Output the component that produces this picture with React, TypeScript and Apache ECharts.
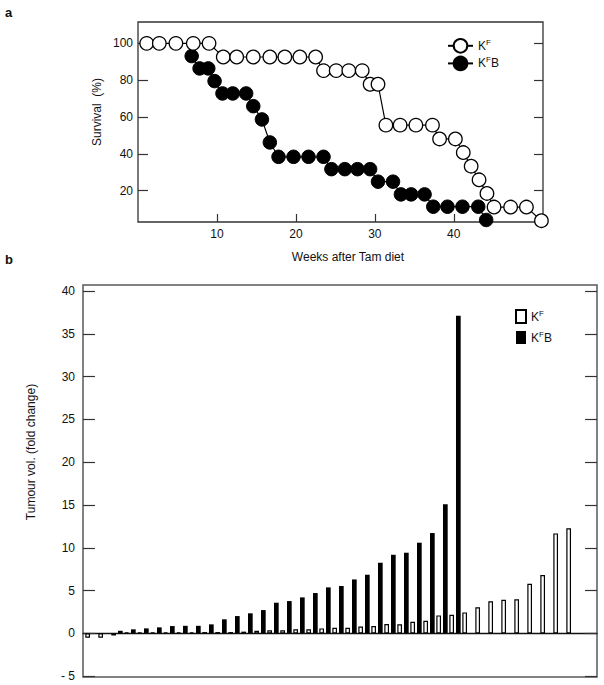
import React, { useEffect, useRef } from 'react';
import * as echarts from 'echarts';

// ---- Panel a: survival (Kaplan-Meier style points) ----
const kfWeeks = [1.1, 2.7, 4.8, 7.0, 9.0, 10.8, 12.5, 14.6, 16.7, 18.6, 20.5, 22.5, 23.5, 25.1, 26.7, 28.4, 29.4, 30.4, 31.4, 33.2, 35.2, 37.3, 38.2, 40.2, 41.2, 42.2, 43.2, 44.2, 45.1, 47.2, 49.2, 51.1];
const kfSurvival = [100, 100, 100, 100, 100, 92.6, 92.6, 92.6, 92.6, 92.6, 92.6, 92.6, 85.2, 85.2, 85.2, 85.2, 77.8, 77.8, 55.6, 55.6, 55.6, 55.6, 48.1, 48.1, 40.7, 33.3, 25.9, 18.5, 11.1, 11.1, 11.1, 3.7];
const kfbWeeks = [6.8, 7.8, 8.9, 9.7, 10.7, 12.0, 13.7, 14.6, 15.7, 16.7, 17.8, 19.7, 21.6, 23.5, 24.5, 26.2, 27.8, 29.4, 30.4, 32.3, 33.3, 34.6, 36.3, 37.4, 39.2, 41.1, 43.1, 44.1];
const kfbSurvival = [93.1, 86.4, 86.4, 79.5, 72.8, 72.8, 72.8, 65.9, 58.7, 46.2, 38.4, 38.4, 38.4, 38.4, 31.7, 31.7, 31.7, 31.7, 24.9, 24.9, 18.0, 18.0, 18.0, 11.3, 11.3, 11.3, 11.3, 4.1];
const weekTicks = [10, 20, 30, 40];
const survivalTicks = [20, 40, 60, 80, 100];

// ---- Panel b: tumour volume fold change ----
const tumourSlots = ['1', '2', '3', '4', '5', '6', '7', '8', '9', '10', '11', '12', '13', '14', '15', '16', '17', '18', '19', '20', '21', '22', '23', '24', '25', '26', '27', '28', '29', '30', '31', '32', '33', '34', '35', '36', '37', '38'];
const kfFold = [-0.5, -0.5, -0.25, 0.1, 0.1, 0.1, 0.12, 0.12, 0.12, 0.15, 0.15, 0.15, 0.2, 0.3, 0.35, 0.35, 0.47, 0.47, 0.58, 0.66, 0.66, 0.8, 0.85, 1.09, 1.05, 1.36, 1.48, 2.1, 2.18, 2.45, 3.04, 3.75, 3.93, 3.97, 5.8, 6.81, 11.68, 12.27];
const kfbFold = [null, null, 0.3, 0.47, 0.58, 0.7, 0.85, 0.88, 0.88, 1.05, 1.64, 2.02, 2.34, 2.72, 3.58, 3.77, 4.2, 4.71, 5.37, 5.53, 6.3, 6.85, 8.25, 9.18, 9.42, 10.59, 11.72, 15.07, 37.1, null, null, null, null, null, null, null, null, null];
const foldTicks = [-5, 0, 5, 10, 15, 20, 25, 30, 35, 40];

const FONT = '"Liberation Sans", Arial, Helvetica, sans-serif';
const INK = '#111';

const legendRich = {
  k: { fontSize: 12, fontFamily: FONT, color: INK, lineHeight: 15 },
  s: { fontSize: 8, fontFamily: FONT, color: INK, verticalAlign: 'top' },
};
const legendFormatter = (name: string) =>
  name.indexOf('KFB') === 0 ? '{k|K}{s|F}{k|B}' : '{k|K}{s|F}';

export default function App() {
  const ref = useRef<HTMLDivElement>(null);

  useEffect(() => {
    if (!ref.current) return;
    const chart = echarts.init(ref.current, undefined, { renderer: 'svg' });

    const tickLine = { color: '#333', width: 1.2 };
    const label = { color: INK, fontSize: 12, fontFamily: FONT };

    const option: any = {
      animation: false,
      backgroundColor: '#fff',
      grid: [
        // 0: frame of panel b
        { left: 83, right: 7, top: 285, bottom: 8, show: true, borderColor: '#5a5a5a', borderWidth: 1.5, backgroundColor: 'transparent' },
        // 1: bars of panel b
        { left: 84.5, width: 494, top: 285, bottom: 8 },
        // 2: panel a
        { left: 138, right: 61, top: 22, bottom: 463, show: true, borderColor: '#333', borderWidth: 1.3, backgroundColor: 'transparent' },
      ],
      xAxis: [
        {
          gridIndex: 0, type: 'value', min: 0, max: 1,
          axisLine: { show: true, onZero: true, lineStyle: { color: '#111', width: 1.3 } },
          axisTick: { show: false }, axisLabel: { show: false }, splitLine: { show: false },
        },
        { gridIndex: 1, type: 'category', data: tumourSlots, show: false },
        {
          gridIndex: 2, type: 'value', min: 0, max: 51.3,
          axisLine: { show: false },
          axisTick: { show: true, inside: true, length: 8, customValues: weekTicks, lineStyle: tickLine },
          axisLabel: { ...label, margin: 6, customValues: weekTicks },
          splitLine: { show: false },
        },
      ],
      yAxis: [
        {
          gridIndex: 0, type: 'value', min: -5.1, max: 40.7, position: 'left',
          axisLine: { show: false },
          axisTick: { show: true, inside: true, length: 12, customValues: foldTicks, lineStyle: tickLine },
          axisLabel: {
            ...label, margin: 8, customValues: foldTicks,
            formatter: (v: number) => (v < 0 ? '- ' + Math.abs(v) : String(v)),
          },
          splitLine: { show: false },
        },
        {
          gridIndex: 0, type: 'value', min: -5.1, max: 40.7, position: 'right',
          axisLine: { show: false },
          axisTick: { show: true, inside: true, length: 12, customValues: foldTicks, lineStyle: tickLine },
          axisLabel: { show: false }, splitLine: { show: false },
        },
        { gridIndex: 1, type: 'value', min: -5.1, max: 40.7, show: false },
        {
          gridIndex: 2, type: 'value', min: 3, max: 111.6, position: 'left',
          axisLine: { show: false },
          axisTick: { show: true, inside: true, length: 10, customValues: survivalTicks, lineStyle: tickLine },
          axisLabel: { ...label, margin: 5, customValues: survivalTicks },
          splitLine: { show: false },
        },
        {
          gridIndex: 2, type: 'value', min: 3, max: 111.6, position: 'right',
          axisLine: { show: false },
          axisTick: { show: true, inside: true, length: 9, customValues: survivalTicks, lineStyle: tickLine },
          axisLabel: { show: false }, splitLine: { show: false },
        },
      ],
      legend: [
        {
          data: ['KF', 'KFB'], left: 442, top: 33, orient: 'vertical', padding: 5,
          itemWidth: 25, itemHeight: 17, itemGap: 2, selectedMode: false,
          formatter: legendFormatter, textStyle: { rich: legendRich, fontFamily: FONT },
        },
        {
          data: ['KF bars', 'KFB bars'], left: 510, top: 304, orient: 'vertical', padding: 5,
          itemWidth: 10, itemHeight: 13, itemGap: 6, icon: 'rect', selectedMode: false,
          formatter: legendFormatter, textStyle: { rich: legendRich, fontFamily: FONT },
        },
      ],
      series: [
        {
          name: 'KF bars', type: 'bar', xAxisIndex: 1, yAxisIndex: 2, data: kfFold,
          barWidth: 4.7, barGap: '42%',
          itemStyle: { color: '#fff', borderColor: '#000', borderWidth: 1.2 },
        },
        {
          name: 'KFB bars', type: 'bar', xAxisIndex: 1, yAxisIndex: 2, data: kfbFold,
          barWidth: 4.7, barGap: '42%',
          itemStyle: { color: '#000' },
        },
        {
          name: 'KFB', type: 'line', xAxisIndex: 2, yAxisIndex: 3,
          data: kfbWeeks.map((w, i) => [w, kfbSurvival[i]]),
          symbol: 'circle', symbolSize: 13.5, showAllSymbol: true, z: 2,
          itemStyle: { color: '#000', borderColor: '#000', borderWidth: 1 },
          lineStyle: { color: '#000', width: 1.2 },
        },
        {
          name: 'KF', type: 'line', xAxisIndex: 2, yAxisIndex: 3,
          data: kfWeeks.map((w, i) => [w, kfSurvival[i]]),
          symbol: 'circle', symbolSize: 13.5, showAllSymbol: true, z: 3,
          itemStyle: { color: '#fff', borderColor: '#000', borderWidth: 1.3 },
          lineStyle: { color: '#000', width: 1.2 },
        },
      ],
      graphic: [
        { type: 'text', x: 5, y: 12, style: { text: 'a', font: `bold 13px ${FONT}`, fill: INK, textVerticalAlign: 'middle' } },
        { type: 'text', x: 5, y: 259, style: { text: 'b', font: `bold 13px ${FONT}`, fill: INK, textVerticalAlign: 'middle' } },
        { type: 'text', x: 348, y: 257, style: { text: 'Weeks after Tam diet', font: `12px ${FONT}`, fill: INK, textAlign: 'center', textVerticalAlign: 'middle' } },
        { type: 'text', x: 97, y: 112, rotation: Math.PI / 2, style: { text: 'Survival  (%)', font: `12px ${FONT}`, fill: INK, textAlign: 'center', textVerticalAlign: 'middle' } },
        { type: 'text', x: 31, y: 452, rotation: Math.PI / 2, style: { text: 'Tumour vol. (fold change)', font: `12px ${FONT}`, fill: INK, textAlign: 'center', textVerticalAlign: 'middle' } },
      ],
    };

    chart.setOption(option);
    return () => chart.dispose();
  }, []);

  return (
    <div
      ref={ref}
      style={{ position: 'fixed', left: 0, top: 0, width: 604, height: 685, background: '#fff' }}
    />
  );
}
